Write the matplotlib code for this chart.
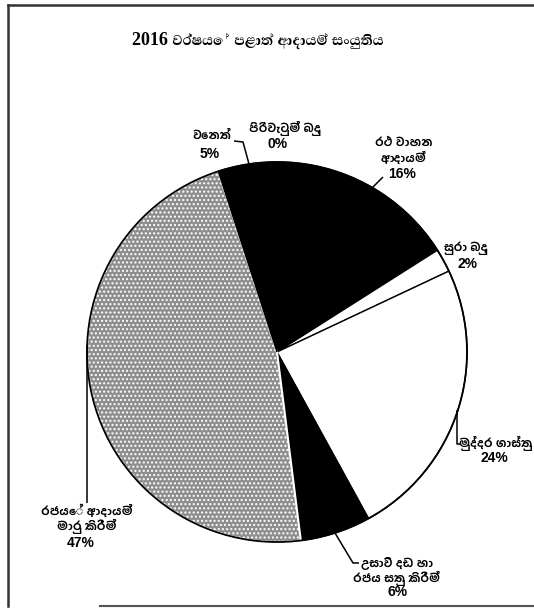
import matplotlib
matplotlib.use("Agg")
import matplotlib.pyplot as plt
from matplotlib.patches import Circle

W, H = 534, 609

# provincial revenue composition, 2016 (%), clockwise from 12 o'clock
categories = ["පිරිවැටුම් බදු", "රථ වාහන\nආදායම්", "සුරා බදු", "මුද්දර ගාස්තු",
              "උසාවි දඩ හා\nරජය සතු කිරීම්", "රජයේ ආදායම්\nමාරු කිරීම්", "වෙනත්"]
shares = [0, 16, 2, 24, 6, 47, 5]
slice_colors = ["black", "black", "white", "white", "black", "#8e8e8e", "black"]
title = "2016 වර්ෂයේ පළාත් ආදායම් සංයුතිය"

# first name line / percentage centres and leader lines, pixels from top-left
name_pos = [(285, 128), (404, 143), (466, 248), (496, 443),
            (397, 563), (87, 511), (212, 136)]
pct_pos = [(278, 144), (402, 174), (467, 264), (494, 458),
           (398, 592), (81, 543), (210, 154)]
line_step = 15
leaders = [None,
           [(372, 188), (383, 177)],
           None,
           [(457, 410), (457, 444), (461, 444)],
           [(335, 533), (353, 563), (359, 563)],
           [(87, 345), (87, 503)],
           [(234, 141), (243, 142), (249, 164)]]

cx, cy, r = 277, 352, 190

sinhala_font = ["Liberation Sans", "Hind Colombo"]
pct_font = ["Liberation Sans"]
title_font = ["Liberation Serif", "Abhaya Libre"]


def fy(y):
    return H - y


fig = plt.figure(figsize=(W / 100, H / 100), dpi=100)
ax = fig.add_axes([0, 0, 1, 1])

wedges, _ = ax.pie(shares, colors=slice_colors, startangle=90, counterclock=False,
                   center=(cx, fy(cy)), radius=r,
                   wedgeprops=dict(edgecolor="black", linewidth=1.0))

# dotted fill for the large grey slice (hatch takes the edge colour)
wedges[5].set_edgecolor("white")
wedges[5].set_hatch("....")
wedges[5].set_linewidth(1.5)

ax.add_patch(Circle((cx, fy(cy)), r, fill=False, edgecolor="black", linewidth=1.3))

for name, val, (nx, ny), (px, py), lead in zip(categories, shares, name_pos,
                                                pct_pos, leaders):
    for i, line in enumerate(name.split("\n")):
        ax.text(nx, fy(ny + i * line_step), line, ha="center", va="center",
                fontsize=8.3, fontweight="bold", family=sinhala_font)
    ax.text(px, fy(py), f"{val}%", ha="center", va="center", fontsize=10,
            fontweight="bold", family=pct_font)
    if lead:
        ax.plot([p[0] for p in lead], [fy(p[1]) for p in lead],
                color="black", linewidth=1.1, solid_capstyle="butt")

ax.text(258, fy(40), title, ha="center", va="center", fontsize=13,
        fontweight="bold", family=title_font)

# outer frame: left, top and bottom rules
ax.plot([8, 8], [fy(5), fy(606)], color="#333333", linewidth=1.8)
ax.plot([8, W], [fy(5), fy(5)], color="#333333", linewidth=1.8)
ax.plot([100, W], [fy(606), fy(606)], color="#555555", linewidth=1.5)

ax.set_xlim(0, W)
ax.set_ylim(0, H)
ax.set_aspect("equal")
ax.axis("off")

fig.savefig("out.png", dpi=100)
